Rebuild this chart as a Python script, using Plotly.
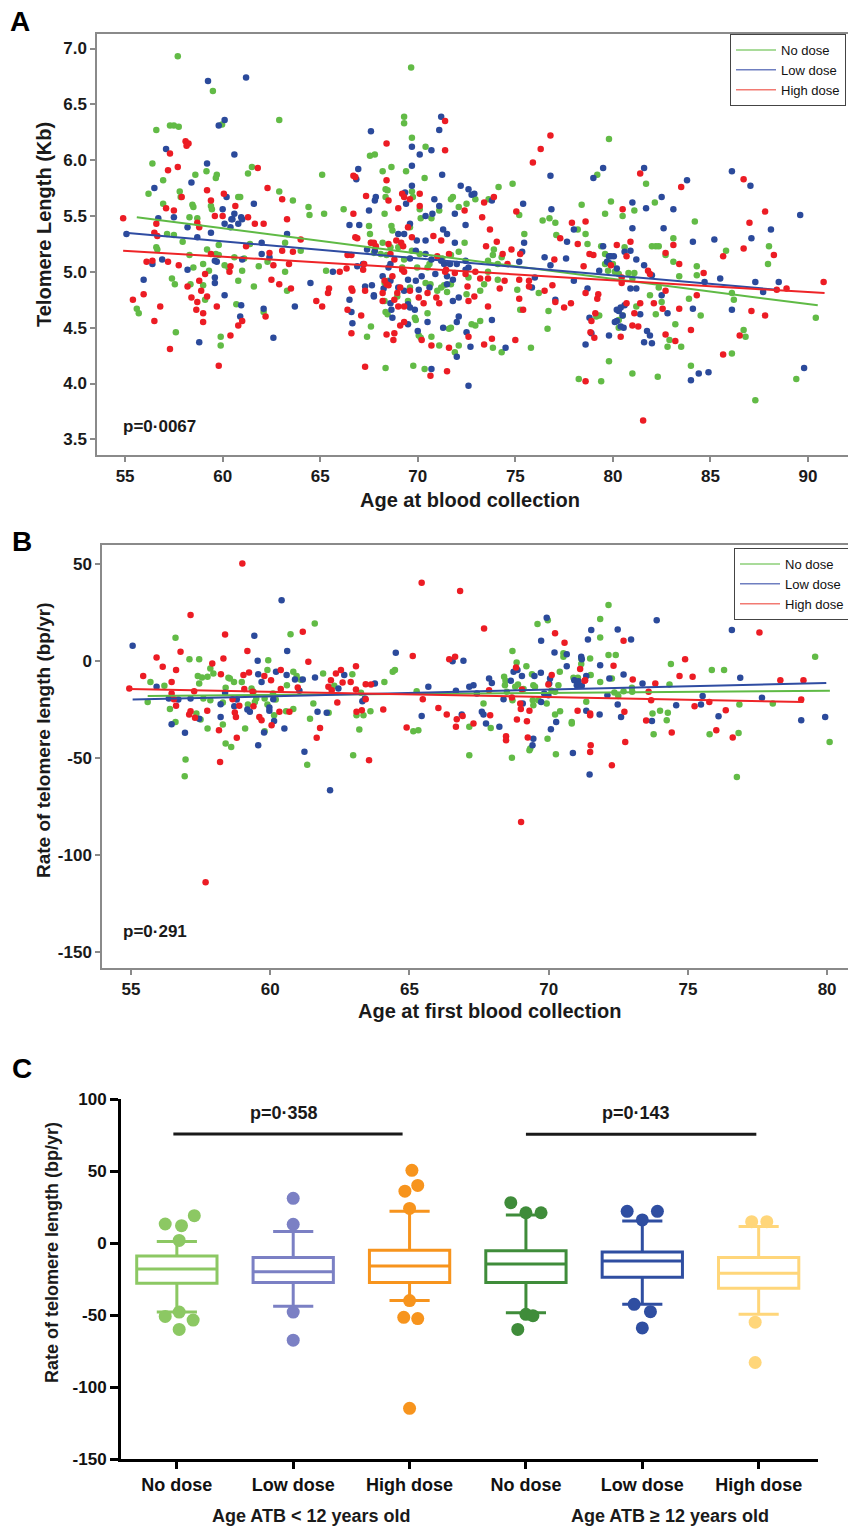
import plotly.graph_objects as go

W, H = 848, 1528
FONT = "Liberation Sans, Arial, sans-serif"

# ---------------- Panel A data (age, telomere length Kb) ----------------
A_NO_DOSE = [(57.7,6.93),(69.66,6.83),(59.5,6.62),(59.97,6.32),(56.6,6.27),(57.3,6.31),(57.5,6.31),(57.75,6.30),(62.9,6.36),(69.3,6.39),(69.3,6.33),(69.7,6.20),(70.4,6.12),(67.55,6.04),(67.8,6.05),(56.4,5.97),(59.17,5.90),(56.95,5.82),(59.7,5.87),(59.65,5.84),(58.6,5.87),(61.5,5.94),(61.3,5.88),(65.1,5.87),(68.2,5.90),(68.65,5.94),(69.4,5.90),(70.35,5.84),(68.35,5.74),(68.45,5.73),(68.35,5.67),(69.7,5.72),(69.75,5.67),(56.2,5.70),(57.8,5.72),(57.85,5.67),(58.45,5.60),(58.5,5.58),(60.8,5.67),(60.9,5.67),(62.9,5.72),(63.6,5.64),(64.4,5.58),(64.45,5.51),(66.2,5.56),(65.2,5.52),(59.4,5.59),(59.45,5.56),(68.3,5.52),(56.95,5.61),(58.3,5.49),(58.7,5.48),(70.1,5.56),(70.15,5.48),(70.7,5.48),(71.1,5.55),(71.8,5.67),(71.7,5.65),(72.1,5.58),(72.5,5.61),(67.5,5.41),(67.55,5.34),(68.65,5.41),(68.7,5.37),(69.6,5.40),(57.15,5.34),(57.5,5.33),(57.95,5.27),(59.8,5.24),(59.2,5.20),(61.4,5.25),(63.2,5.26),(64.0,5.19),(56.6,5.22),(56.65,5.20),(58.3,5.15),(59.8,5.15),(59.65,5.16),(60.6,5.13),(61.1,5.12),(61.85,5.05),(62.3,5.09),(63.2,5.00),(63.3,4.83),(59.3,5.01),(60.1,5.06),(60.3,5.04),(59.0,5.07),(58.5,5.04),(65.3,5.01),(57.55,4.89),(57.4,4.94),(58.35,4.89),(59.0,4.88),(59.1,4.75),(60.7,4.71),(61.6,4.87),(61.0,5.01),(60.8,4.92),(62.1,4.64),(55.6,4.67),(55.7,4.63),(57.6,4.46),(59.9,4.42),(59.9,4.34),(67.6,5.26),(67.75,5.17),(68.2,5.26),(68.1,5.16),(68.4,5.15),(68.6,5.22),(69.0,5.22),(69.3,5.11),(69.2,5.04),(69.7,5.19),(70.1,5.16),(69.97,5.04),(70.5,5.04),(70.6,5.07),(71.25,5.12),(71.7,5.15),(72.1,5.18),(72.4,5.26),(71.2,4.86),(71.35,4.88),(71.0,4.83),(71.5,4.82),(71.7,4.89),(70.4,4.90),(70.65,4.89),(68.3,4.90),(68.5,4.92),(68.3,4.74),(68.35,4.64),(68.45,4.62),(68.95,4.78),(69.6,4.86),(69.5,4.74),(69.9,4.57),(69.85,4.59),(70.5,4.63),(67.6,4.51),(67.4,4.42),(68.35,4.14),(69.77,4.16),(70.35,4.13),(70.05,4.43),(70.15,4.41),(70.7,4.42),(71.1,4.34),(71.7,4.50),(71.6,4.49),(72.1,4.34),(71.9,4.28),(72.5,4.80),(72.6,4.95),(72.76,4.53),
    (79.8,6.19),(74.14,5.76),(74.86,5.79),(72.95,5.65),(73.63,5.65),(75.2,5.51),(75.46,5.34),(76.4,5.46),(76.75,5.48),(77.05,5.44),(77.1,5.33),(78.2,5.38),(78.4,5.60),(78.6,5.34),(78.7,5.25),(79.2,5.87),(79.6,5.52),(79.9,5.63),(80.5,5.50),(81.1,5.55),(81.7,5.79),(82.15,5.62),(79.4,5.23),(79.6,5.16),(79.8,5.14),(79.6,5.07),(79.75,5.01),(80.0,5.07),(80.1,5.00),(80.3,4.98),(80.6,5.22),(80.8,4.99),(81.1,4.99),(81.0,4.94),(82.0,5.23),(82.2,5.23),(82.35,5.23),(83.1,5.30),(83.1,5.09),(82.7,5.15),(82.35,4.86),(81.9,4.79),(81.2,4.69),(82.2,4.62),(82.5,4.73),(80.3,4.57),(80.5,4.61),(80.3,4.50),(79.15,4.60),(79.3,4.61),(79.8,4.20),(81.0,4.09),(82.3,4.06),(79.4,4.02),(78.25,4.04),(76.7,4.65),(76.65,4.49),(75.8,4.32),(74.3,4.28),(73.85,4.32),(73.2,4.56),(72.95,4.52),(73.2,4.83),(73.4,4.89),(73.6,5.00),(73.6,5.10),(74.1,5.07),(74.3,5.13),(73.9,5.20),(73.85,5.15),(74.1,4.93),(75.1,4.84),(76.2,4.81),(75.25,4.66),(82.8,4.33),(82.9,4.39),(83.5,4.33),(83.2,4.53),(83.4,4.96),(83.9,4.76),(84.0,4.16),(84.2,5.45),(84.3,5.05),(84.3,4.97),(84.5,4.61),(85.8,5.19),(86.1,4.81),(86.2,4.75),(86.1,4.27),(86.7,4.48),(86.8,4.42),(87.3,3.85),(87.95,5.07),(88.0,5.23),(89.4,4.04),(90.4,4.59)]

A_LOW_DOSE = [(59.25,6.71),(61.2,6.74),(59.8,6.31),(60.1,6.36),(57.1,6.10),(60.6,6.05),(59.2,5.97),(58.4,5.80),(56.5,5.75),(60.2,5.67),(61.6,5.61),(60.0,5.56),(60.6,5.52),(61.0,5.47),(60.95,5.49),(60.5,5.47),(60.45,5.47),(60.8,5.43),(60.4,5.40),(60.1,5.43),(56.7,5.48),(57.5,5.49),(58.2,5.40),(59.4,5.35),(58.7,5.31),(55.07,5.34),(63.3,5.34),(62.0,5.26),(67.6,6.26),(71.2,6.39),(71.1,6.27),(69.7,6.12),(70.1,6.05),(70.7,6.09),(69.7,5.95),(66.95,5.92),(66.85,5.83),(71.25,5.87),(69.7,5.77),(69.35,5.71),(69.4,5.61),(67.85,5.67),(67.8,5.64),(67.5,5.55),(70.4,5.50),(70.85,5.65),(71.1,5.59),(70.75,5.52),(72.2,5.77),(72.6,5.74),(72.76,5.69),(71.9,5.52),(72.45,5.42),(66.5,5.42),(67.0,5.42),(69.6,5.43),(69.95,5.28),(70.4,5.28),(69.0,5.34),(69.3,5.34),(71.3,5.38),(71.5,5.34),(71.9,5.26),(67.4,5.20),(67.8,5.19),(69.9,5.19),(70.4,5.16),(70.7,5.11),(71.2,5.10),(71.35,5.07),(71.65,5.07),(72.0,5.07),(72.45,5.10),(69.6,5.12),(68.6,5.07),(68.5,5.04),(67.2,5.07),(66.9,5.05),(65.65,5.00),(62.0,5.16),(62.4,5.13),(56.9,5.11),(56.4,5.07),(58.2,5.02),(59.6,5.10),(59.7,5.09),(61.0,5.11),(64.5,4.90),(55.95,4.93),(59.6,4.95),(59.6,4.90),(60.1,4.79),(60.95,4.70),(60.9,4.60),(62.1,4.67),(63.7,4.69),(58.8,4.37),(62.6,4.41),(67.3,4.87),(67.65,4.88),(67.75,4.79),(67.75,4.78),(68.2,4.96),(68.25,4.85),(68.6,4.92),(68.6,4.72),(68.65,4.66),(68.7,4.59),(69.0,4.86),(69.3,4.83),(69.5,4.93),(69.5,4.71),(69.6,4.68),(69.85,4.66),(69.9,4.92),(70.05,4.84),(70.2,4.96),(70.6,4.86),(70.9,4.98),(71.5,4.89),(71.5,4.96),(71.8,4.93),(72.45,5.02),(72.6,5.04),(71.8,4.74),(72.1,4.77),(72.1,4.60),(72.0,4.55),(71.3,4.50),(72.5,4.46),(72.7,4.33),(69.5,4.53),(70.5,4.55),(70.0,4.47),(66.65,4.54),(66.6,4.64),(66.5,4.75),(72.0,4.24),(70.7,4.13),(72.6,3.98),
    (76.8,5.86),(79.0,5.84),(79.5,5.93),(81.6,5.93),(81.0,5.62),(81.7,5.57),(82.5,5.67),(83.1,5.56),(83.8,5.82),(86.1,5.90),(87.05,5.77),(89.6,5.51),(88.1,5.38),(87.1,5.30),(85.2,5.29),(84.1,5.27),(82.6,5.39),(81.0,5.39),(79.5,5.23),(79.9,5.14),(80.05,5.14),(79.8,5.14),(79.7,5.09),(79.8,5.08),(80.2,5.03),(80.6,5.18),(80.9,5.19),(81.2,5.11),(81.6,5.06),(82.0,4.97),(79.3,5.01),(78.0,4.92),(77.65,5.27),(78.0,5.38),(77.6,5.12),(76.85,5.56),(76.5,5.13),(76.8,5.06),(75.4,5.61),(75.45,5.26),(75.35,5.18),(75.2,5.09),(76.0,4.95),(75.85,4.86),(73.8,5.64),(72.9,5.70),(73.8,4.57),(74.5,4.32),(78.7,4.85),(78.8,4.59),(78.9,4.45),(78.6,4.35),(79.8,4.43),(80.2,4.66),(80.3,4.65),(80.4,4.68),(80.6,4.70),(80.5,4.61),(80.2,4.56),(80.1,4.55),(80.4,4.51),(80.55,4.50),(80.9,4.85),(81.2,4.85),(81.4,4.62),(81.75,4.47),(81.9,4.43),(82.0,4.36),(81.6,4.37),(82.5,4.79),(82.8,4.63),(84.1,4.67),(84.7,4.91),(85.5,4.94),(86.1,4.66),(87.3,4.91),(87.7,4.82),(88.5,4.91),(84.0,4.03),(84.4,4.09),(84.9,4.10),(89.8,4.14),(77.05,4.75)]

A_HIGH_DOSE = [(54.9,5.48),(58.1,6.17),(58.15,6.13),(58.25,6.15),(57.3,6.06),(57.7,5.94),(61.8,5.93),(68.4,6.15),(71.4,6.35),(71.4,6.09),(66.7,5.86),(66.8,5.85),(68.4,5.82),(59.2,5.73),(60.06,5.70),(57.9,5.67),(62.3,5.75),(63.05,5.65),(59.4,5.64),(60.65,5.59),(57.1,5.57),(57.5,5.55),(59.6,5.50),(60.0,5.50),(61.3,5.49),(67.35,5.68),(68.5,5.64),(69.2,5.70),(69.3,5.67),(69.6,5.65),(70.1,5.70),(70.1,5.59),(69.0,5.57),(72.4,5.55),(66.7,5.52),(63.3,5.47),(56.6,5.43),(56.65,5.32),(56.5,5.35),(58.7,5.44),(58.8,5.40),(61.65,5.43),(62.1,5.43),(64.0,5.29),(66.8,5.31),(66.9,5.30),(67.6,5.26),(67.75,5.26),(67.85,5.23),(68.5,5.25),(68.9,5.28),(69.15,5.26),(69.25,5.23),(69.5,5.40),(69.7,5.31),(70.8,5.32),(71.2,5.28),(61.2,5.23),(63.05,5.19),(63.6,5.18),(62.4,5.17),(57.2,5.91),(59.4,5.16),(56.1,5.09),(56.4,5.10),(57.2,5.09),(57.75,5.06),(60.4,5.05),(60.35,5.00),(59.1,4.98),(58.8,4.92),(58.2,4.87),(58.9,4.83),(58.7,4.73),(59.2,4.78),(58.4,4.77),(58.65,4.66),(59.0,4.63),(59.0,4.55),(59.7,4.69),(55.4,4.75),(55.95,4.80),(56.8,4.69),(56.5,4.56),(57.3,4.31),(59.8,4.16),(60.4,4.43),(60.8,4.52),(61.0,4.56),(62.2,4.60),(62.5,4.93),(62.9,4.89),(62.6,5.06),(63.4,5.07),(63.5,4.85),(64.8,4.74),(65.1,4.69),(65.4,4.81),(65.45,4.85),(66.0,5.00),(66.35,5.03),(66.4,5.15),(66.6,5.15),(67.2,5.02),(67.25,5.07),(66.4,4.66),(66.6,4.85),(66.65,4.83),(67.1,4.61),(66.6,4.45),(67.3,4.15),(67.3,4.83),(68.2,4.81),(68.2,4.74),(68.4,4.89),(68.3,4.92),(68.7,4.96),(68.5,4.88),(68.8,5.11),(68.6,5.16),(69.2,5.02),(69.3,5.00),(69.1,4.86),(68.95,4.81),(68.8,4.75),(69.3,4.55),(69.1,4.52),(68.4,4.44),(68.8,4.45),(68.75,4.39),(69.0,4.69),(69.3,4.69),(69.6,4.83),(70.05,4.77),(70.3,4.72),(70.5,4.81),(70.95,4.77),(71.1,4.72),(71.6,5.16),(71.4,5.00),(71.45,5.02),(71.0,5.14),(71.9,4.99),(72.45,4.98),(72.55,4.87),(72.6,4.74),(72.6,4.42),(70.7,4.34),(70.2,4.39),(71.6,4.32),(70.65,4.07),(71.5,4.11),
    (76.8,6.22),(76.3,6.10),(75.9,5.98),(73.9,5.67),(73.4,5.62),(75.05,5.54),(73.3,5.49),(73.7,5.38),(73.5,5.23),(74.05,5.27),(74.35,5.16),(74.8,5.20),(75.25,5.16),(77.9,5.44),(78.6,5.45),(77.3,5.30),(78.2,5.25),(77.0,5.11),(78.8,5.16),(79.0,5.15),(78.5,5.05),(74.6,5.07),(72.95,5.00),(73.2,4.94),(73.6,4.94),(74.45,4.92),(74.2,4.85),(75.2,4.93),(75.7,4.92),(75.7,4.87),(76.9,4.88),(76.5,4.83),(75.2,4.76),(72.9,4.78),(73.6,4.69),(75.4,4.66),(77.05,4.73),(77.5,4.68),(77.85,4.72),(78.6,4.81),(79.2,4.76),(79.25,4.80),(79.1,4.63),(78.9,4.56),(78.85,4.46),(79.05,4.41),(78.6,4.02),(75.0,4.39),(73.8,4.40),(73.4,4.35),(80.5,5.56),(80.2,5.24),(79.9,5.06),(80.45,4.95),(80.45,4.90),(80.7,5.14),(80.9,5.27),(81.4,5.88),(80.7,4.72),(80.4,4.42),(81.1,4.63),(81.0,4.52),(81.3,4.51),(81.4,4.72),(82.1,4.72),(82.7,4.83),(82.55,4.67),(82.7,4.44),(83.2,4.38),(81.55,3.67),(81.8,5.01),(81.9,4.98),(82.7,5.17),(83.1,5.24),(83.4,5.07),(83.5,5.76),(83.4,4.67),(84.0,4.48),(84.3,4.79),(84.65,4.99),(85.65,5.14),(85.65,4.26),(86.5,4.43),(86.7,5.83),(86.7,5.21),(87.0,5.44),(87.1,4.65),(87.8,5.54),(87.8,4.61),(88.25,5.15),(88.4,4.84),(88.9,4.85),(90.8,4.91)]

# regression line end points (age, Kb)
A_FIT_NO = [(55.6, 5.49), (90.5, 4.70)]
A_FIT_LOW = [(55.0, 5.35), (88.4, 4.84)]
A_FIT_HIGH = [(54.9, 5.19), (90.85, 4.81)]
A_Y_TICKS = [3.5, 4.0, 4.5, 5.0, 5.5, 6.0, 6.5, 7.0]
A_X_TICKS = [55, 60, 65, 70, 75, 80, 85, 90]

# ---------------- Panel B data (age, bp/yr) ----------------
B_NO_DOSE = [(56.6,12.0),(57.1,1.0),(57.45,1.0),(55.6,-21),(55.7,-10.7),(56.2,-12.7),(56.4,-24.7),(56.6,-31.3),(56.96,-50.7),(56.93,-59.3),(57.45,-11.5),(57.4,-7.6),(57.55,-8.4),(57.35,-27),(57.5,-30),(57.6,-19.2),(57.75,-8),(57.85,-3.8),(57.96,-6.4),(57.85,-20.1),(57.75,-34.7),(58.4,-13.7),(58.5,-8.6),(58.55,-9),(58.7,-10.7),(58.3,-21.3),(58.3,-32.6),(58.4,-42.4),(58.6,-44.2),(58.98,-10.7),(59.33,-14.1),(59.4,-15.8),(59.1,-34.7),(59.2,-22.3),(59.45,-21),(59.5,-19.2),(59.8,-19.2),(59.9,-22.3),(59.93,0.5),(59.9,-4.6),(60.1,-16.7),(60.2,-19.8),(60.14,-27.8),(59.8,-36.1),(60.6,-12.4),(60.57,-25.8),(60.73,13.8),(60.83,-5.5),(60.95,-7.6),(61.1,-9.6),(60.83,-24.7),(61.33,-53.3),(61.43,-29.6),(61.55,-21.8),(61.6,19.4),(61.9,-6.4),(62.1,-26.6),(62.3,-12.7),(62.95,-6.7),(62.98,-48.5),(63.1,-27.8),(63.35,-27.8),(63.2,-35.2),(63.26,-16.3),(63.6,-25.8),(64.1,-10.7),(64.4,-5.5),(64.48,-4.6),(65.14,-36.1),(65.32,-35.6),(65.26,-15.5),(67.15,-48.5),(67.15,-33.8),
    (72.15,28.9),(69.6,19.1),(69.97,21.1),(71.85,21.7),(71.85,12.2),(68.7,5.2),(68.85,-0.7),(69.2,-2.6),(68.4,-8.1),(68.45,-10.1),(68.43,-12.4),(68.5,-15.8),(68.8,-13.2),(68.9,-12),(68.7,-20.1),(69.1,-14.4),(69.4,-6.7),(69.45,-12.4),(69.51,-13.2),(69.43,-20.1),(69.45,-22.7),(69.63,-20.1),(69.93,-21.8),(70.4,-5.5),(70.35,-12.4),(70.53,4),(70.53,2.2),(70.1,-15.3),(70.23,-15.8),(70.41,-25.8),(70.23,-27.5),(70.83,-31.3),(70.83,-32.1),(69.96,-39.9),(70.26,-48),(69.34,-45),(69.31,-45.9),(68.68,-49.7),(67.92,-34.4),(67.66,-21.8),(70.89,-8.6),(71.05,-8.6),(71.17,-1.5),(71.17,1.4),(71.49,1.4),(71.51,-7.2),(71.85,-10.7),(71.35,-20.9),(72.15,3.1),(72.41,3.1),(72.27,-8.9),(72.36,-16.2),(72.5,-17.9),(72.69,-15.5),(72.99,-13.7),(73.0,-15.8),(73.73,-27),(73.77,-37.6),(74.0,-25.6),(74.24,-30.4),(74.28,-26.6),(74.34,-12),(74.39,-1.5),(75.78,-37.6),(75.86,-4.6),(76.3,-4.6),(76.82,-37),(76.85,-22.3),(76.76,-59.6),(78.05,-21.8),(79.57,2.2),(80.09,-41.6)]

B_LOW_DOSE = [(55.06,7.9),(55.92,-13.2),(56.36,-19.2),(56.7,-19.8),(56.46,-32.5),(56.94,-36.9),(57.14,-19.2),(57.45,-29.6),(58.22,-22.2),(58.22,-28.7),(58.38,-16.3),(58.71,-23.2),(58.8,-19.8),(59.18,-24.9),(59.27,-26.1),(59.43,13.05),(59.55,0.2),(59.57,-6.7),(59.69,-10.7),(59.57,-43.3),(59.78,-36.8),(59.97,-23.9),(59.97,-25.6),(60.11,-19.6),(60.14,-30.8),(60.21,-5.5),(60.41,31.4),(60.51,-34.7),(60.59,-7.2),(60.61,5.2),(60.89,-9.5),(61.17,-9.5),(61.05,-15.3),(61.23,-46.7),(61.61,-8.4),(61.7,-26.1),(62.03,-26.6),(62.15,-66.5),(62.45,-14.1),(62.66,-7.2),(63.31,-20.6),(63.4,-19.2),(63.76,-11.5),(64.51,4.3),(65.44,-28.3),(65.68,-13.2),(66.55,0),(66.94,0.2),(66.67,-15.3),(66.88,-27.5),(67.15,-13.2),(67.3,-12.4),
    (69.93,22.3),(69.73,10.5),(70.21,4.5),(70.65,3.6),(71.17,2.2),(71.19,1.0),(71.41,11.2),(71.53,16),(72.48,16.3),(72.96,11.2),(73.88,21.1),(76.58,16),(70.65,-2.6),(71.85,-2.1),(68.74,-5.5),(68.88,-4.6),(68.64,-10.1),(69.04,-7.7),(69.72,-6),(69.49,-7.7),(69.84,-16.7),(69.99,-17.5),(70.02,-11.5),(70.05,-8.9),(70.92,-9.8),(71.01,-12.4),(71.19,-12.7),(71.07,-10.3),(71.35,-7.7),(72.18,-8.9),(72.11,-17.5),(72.69,-6.9),(73.37,-11.5),(67.86,-8.9),(67.96,-11.2),(67.42,-16.7),(68.38,-19.6),(69.07,-21.8),(69.73,-21),(67.6,-26.1),(67.66,-27.5),(67.75,-32.1),(68.23,-33.8),(69.45,-39.9),(69.42,-43.3),(70.08,-35.1),(70.27,-31.3),(71.35,-25.6),(71.83,-27.5),(72.48,-22.3),(72.6,-28.7),(71.47,-58.4),(70.87,-47.3),(73.71,-30.8),(74.58,-22.7),(75.47,-22.3),(75.53,-17.9),(76.1,-28.4),(76.88,-8.6),(77.66,-18.9),(79.07,-30.4),(79.93,-28.7)]

B_HIGH_DOSE = [(59.0,50.3),(57.14,23.7),(58.38,13.7),(58.32,1.4),(59.18,5.2),(55.92,1.9),(55.44,-7.7),(56.14,-2.9),(56.78,4.8),(56.46,-10.7),(56.62,-4.6),(54.94,-14.1),(56.46,-16.7),(56.54,-19.6),(56.62,-23),(57.09,-27.5),(57.14,-25.8),(57.3,-29.2),(57.27,-15.5),(57.74,-25.6),(57.92,-1.2),(58.23,-6.7),(58.16,-35.6),(58.2,-51.9),(58.65,-19.6),(58.73,-26.5),(58.77,-28.7),(58.8,-39.5),(58.89,-23),(59.04,-7.2),(59.24,-5.8),(59.07,-14.4),(59.37,-15.8),(59.4,-23.2),(59.61,-28.7),(59.69,-30.4),(59.79,-7.7),(60.03,-9.8),(60.05,-33),(60.38,-4.6),(60.38,-14.4),(60.33,-26.1),(60.69,-26.1),(60.99,-13.6),(61.17,15.1),(61.37,-0.3),(61.67,-39.5),(61.79,-34.4),(62.09,-13.2),(62.21,-15),(62.18,-9.8),(62.36,-6.4),(62.54,-4.6),(62.41,-21.3),(62.6,-11),(62.89,-10.7),(63.08,-2.6),(63.08,-14.6),(63.1,-26.1),(63.29,-25.3),(63.43,-19.6),(63.43,-11.9),(63.62,-12),(63.55,-51),(64.06,-24.9),(64.9,-34.2),(65.12,2.7),(65.44,40.4),(65.48,-19.6),(66.04,-24.1),(66.34,-27.5),(66.43,1.0),(66.64,2.2),(66.82,36.1),(66.67,-33.8),(66.7,-29.9),(66.91,-28.2),(67.3,-32.1),(57.68,-113.9),
    (67.68,16.8),(68.83,-3.3),(70.11,-7.2),(70.23,14.3),(70.57,9.5),(71.13,-4.1),(71.29,-10.1),(72.33,-2.4),(72.69,10.5),(73.02,-9.5),(73.59,-15.8),(73.83,-11.5),(73.68,-20.1),(73.5,-30.6),(74.42,-36.8),(74.7,-7.6),(74.9,1.0),(75.17,-8.1),(75.24,-23.2),(75.77,-21),(76.02,-35.6),(76.36,-25.3),(76.61,-39.3),(77.57,14.8),(78.32,-9.8),(79.15,-9.8),(79.07,-19.8),(68.47,-38.7),(68.47,-40.7),(68.68,-18.7),(67.86,-15),(67.9,-27.8),(68.86,-30.1),(69.22,-30.9),(68.98,-21.8),(69.0,-24.7),(69.31,-25.6),(69.04,-14.6),(69.25,-39.3),(69.99,-12.0),(71.04,-25.6),(71.31,-9.8),(71.49,-27),(71.49,-27.8),(71.51,-43.3),(71.49,-46.8),(72.27,-53.6),(72.72,-26.1),(72.75,-41.6),(69.01,-82.8)]

B_FIT_NO = [(55.6, -17.9), (80.1, -15.3)]
B_FIT_LOW = [(55.06, -19.8), (79.97, -11.2)]
B_FIT_HIGH = [(54.94, -14.4), (79.15, -21.0)]
B_Y_TICKS = [-150, -100, -50, 0, 50]
B_X_TICKS = [55, 60, 65, 70, 75, 80]

# ---------------- Panel C data (box summary, bp/yr) ----------------
C_LABELS = ["No dose", "Low dose", "High dose", "No dose", "Low dose", "High dose"]
C_Q1 = [-28, -27.5, -27.5, -27.5, -23.8, -31.5]
C_MEDIAN = [-18, -20, -16, -14.6, -12.5, -21]
C_Q3 = [-9, -10, -5, -5.3, -6.3, -10]
C_LOWER = [-48, -44, -40, -48.4, -42.6, -49.5]
C_UPPER = [1, 8, 22, 19.4, 15.3, 11.4]
# outliers: (group index, x offset within group, value)
C_OUTLIERS = [
    (0, -0.10, 13.2), (0, 0.04, 12.0), (0, 0.15, 19.0), (0, 0.02, 1.8),
    (0, -0.10, -51.0), (0, 0.02, -48.0), (0, 0.14, -53.5), (0, 0.02, -60.0),
    (1, 0.0, 31.0), (1, 0.0, 13.0), (1, 0.0, -48.0), (1, 0.0, -67.5),
    (2, 0.02, 50.5), (2, 0.07, 40.0), (2, -0.04, 36.0), (2, 0.0, 24.0),
    (2, 0.0, -40.0), (2, -0.05, -51.6), (2, 0.07, -52.5), (2, 0.0, -114.8),
    (3, -0.13, 28.0), (3, 0.0, 21.0), (3, 0.13, 21.0),
    (3, 0.0, -49.5), (3, 0.06, -50.5), (3, -0.07, -60.0),
    (4, -0.13, 22.0), (4, 0.0, 16.0), (4, 0.13, 22.0),
    (4, -0.07, -42.6), (4, 0.07, -47.7), (4, 0.0, -59.0),
    (5, -0.06, 14.8), (5, 0.07, 14.8), (5, -0.03, -55.0), (5, -0.03, -83.0),
]
C_COLORS = ["#8cc863", "#7b80c4", "#f7941d", "#3f8c3a", "#2f4ea1", "#ffd67a"]
C_GROUPS = ["Age ATB < 12 years old", "Age ATB \u2265 12 years old"]
C_PVALUES = ["p=0\u00b7358", "p=0\u00b7143"]
C_BRACKETS = [(-0.03, 1.94, 75.7), (3.0, 4.98, 75.5)]
C_Y_TICKS = [-150, -100, -50, 0, 50, 100]

GREEN, BLUE, RED = "#62bb46", "#2b4a9b", "#ec1c24"
LGREEN, LBLUE, LRED = "#5fba45", "#2f4ca2", "#ee2427"
PGREEN, PBLUE, PRED = "#8ccf78", "#6f7fc0", "#f27a72"


def px_x(p):
    return p / W


def px_y(p):
    return 1 - p / H


def hy(v, fmt="{:g}"):
    return fmt.format(v).replace("\u2212", "-")


fig = go.Figure()

# Panel A scatter
for pts, col in [(A_NO_DOSE, GREEN), (A_LOW_DOSE, BLUE), (A_HIGH_DOSE, RED)]:
    fig.add_trace(go.Scatter(x=[p[0] for p in pts], y=[p[1] for p in pts], mode="markers",
                             marker=dict(size=6.5, color=col), showlegend=False,
                             xaxis="x", yaxis="y"))
for fit, col in [(A_FIT_NO, LGREEN), (A_FIT_LOW, LBLUE), (A_FIT_HIGH, LRED)]:
    fig.add_trace(go.Scatter(x=[p[0] for p in fit], y=[p[1] for p in fit], mode="lines",
                             line=dict(color=col, width=2), showlegend=False,
                             xaxis="x", yaxis="y"))
for col, name in [(PGREEN, "No dose"), (PBLUE, "Low dose"), (PRED, "High dose")]:
    fig.add_trace(go.Scatter(x=[None], y=[None], mode="lines", line=dict(color=col, width=1.5),
                             name=name, legend="legend", xaxis="x", yaxis="y"))

# Panel B scatter
for pts, col in [(B_NO_DOSE, GREEN), (B_LOW_DOSE, BLUE), (B_HIGH_DOSE, RED)]:
    fig.add_trace(go.Scatter(x=[p[0] for p in pts], y=[p[1] for p in pts], mode="markers",
                             marker=dict(size=6.5, color=col), showlegend=False,
                             xaxis="x2", yaxis="y2"))
for fit, col in [(B_FIT_NO, LGREEN), (B_FIT_LOW, LBLUE), (B_FIT_HIGH, LRED)]:
    fig.add_trace(go.Scatter(x=[p[0] for p in fit], y=[p[1] for p in fit], mode="lines",
                             line=dict(color=col, width=2), showlegend=False,
                             xaxis="x2", yaxis="y2"))
for col, name in [(PGREEN, "No dose"), (PBLUE, "Low dose"), (PRED, "High dose")]:
    fig.add_trace(go.Scatter(x=[None], y=[None], mode="lines", line=dict(color=col, width=1.5),
                             name=name, legend="legend2", xaxis="x2", yaxis="y2"))

# Panel C boxes
for i in range(6):
    fig.add_trace(go.Box(x=[i], q1=[C_Q1[i]], median=[C_MEDIAN[i]], q3=[C_Q3[i]],
                         lowerfence=[C_LOWER[i]], upperfence=[C_UPPER[i]],
                         width=0.69, whiskerwidth=0.5, fillcolor="white",
                         line=dict(color=C_COLORS[i], width=3), boxpoints=False,
                         showlegend=False, xaxis="x3", yaxis="y3"))
    pts = [o for o in C_OUTLIERS if o[0] == i]
    fig.add_trace(go.Scatter(x=[o[0] + o[1] for o in pts], y=[o[2] for o in pts], mode="markers",
                             marker=dict(size=13, color=C_COLORS[i]), showlegend=False,
                             xaxis="x3", yaxis="y3"))

for (x0, x1, yv) in C_BRACKETS:
    fig.add_trace(go.Scatter(x=[x0, x1], y=[yv, yv], mode="lines",
                             line=dict(color="#1a1a1a", width=3), showlegend=False,
                             xaxis="x3", yaxis="y3"))

tick_font = dict(family=FONT, size=17, color="#1a1a1a", weight="bold")
gray_axis = dict(showline=True, linecolor="#8a8a8a", linewidth=1.5, ticks="outside",
                 ticklen=5, tickcolor="#8a8a8a", tickwidth=1.5, showgrid=False,
                 zeroline=False, tickfont=tick_font)
legend_common = dict(xanchor="left", yanchor="top", bgcolor="white", bordercolor="#444",
                     borderwidth=1, font=dict(family=FONT, size=13, color="#111"),
                     tracegroupgap=0, itemwidth=40)

fig.update_layout(
    width=W, height=H, margin=dict(l=0, r=0, t=0, b=0, autoexpand=False),
    paper_bgcolor="white", plot_bgcolor="white", showlegend=True,
    xaxis=dict(domain=[px_x(97), 1.0], range=[53.56, 92.05], tickvals=A_X_TICKS,
               mirror=True, anchor="y", **gray_axis),
    yaxis=dict(domain=[px_y(455), px_y(34)], range=[3.36, 7.13], tickvals=A_Y_TICKS,
               ticktext=[hy(v, "{:.1f}") for v in A_Y_TICKS], anchor="x", **gray_axis),
    xaxis2=dict(domain=[px_x(102), 1.0], range=[53.96, 80.75], tickvals=B_X_TICKS,
                mirror=True, anchor="y2", **gray_axis),
    yaxis2=dict(domain=[px_y(968), px_y(545)], range=[-158, 59.8], tickvals=B_Y_TICKS,
                ticktext=[hy(v) for v in B_Y_TICKS], anchor="x2", **gray_axis),
    xaxis3=dict(domain=[px_x(121), px_x(818)], range=[-0.48, 5.51], tickvals=list(range(6)),
                ticktext=C_LABELS, showline=True, linecolor="black", linewidth=3, ticks="outside",
                ticklen=7, tickwidth=3, tickcolor="black", showgrid=False, zeroline=False,
                tickfont=dict(family=FONT, size=18, color="#111", weight="bold"), anchor="y3"),
    yaxis3=dict(domain=[px_y(1459), px_y(1099)], range=[-150, 100], tickvals=C_Y_TICKS,
                ticktext=[hy(v) for v in C_Y_TICKS], showline=True, linecolor="black", linewidth=3,
                ticks="outside", ticklen=8, tickwidth=3, tickcolor="black", showgrid=False,
                zeroline=False, tickfont=dict(family=FONT, size=17, color="#111", weight="bold"),
                anchor="x3"),
    legend=dict(x=px_x(730), y=px_y(34), **legend_common),
    legend2=dict(x=px_x(734), y=px_y(548), **legend_common),
)

ann = []


def add_text(text, x, y, size, angle=0, xanchor="center", weight="bold", color="#1a1a1a"):
    ann.append(dict(text=text, x=px_x(x), y=px_y(y), xref="paper", yref="paper",
                    showarrow=False, xanchor=xanchor, yanchor="middle", textangle=angle,
                    font=dict(family=FONT, size=size, color=color, weight=weight)))


add_text("A", 20, 21, 28, color="black")
add_text("B", 22, 541, 28, color="black")
add_text("C", 22, 1068, 28, color="black")
add_text("Telomere Length (Kb)", 44, 225, 20, angle=-90)
add_text("Age at blood collection", 470, 500, 20)
add_text("p=0\u00b70067", 121, 427, 17, xanchor="left")
add_text("Rate of telomere length (bp/yr)", 44, 740, 19, angle=-90)
add_text("Age at first blood collection", 489, 1011, 20)
add_text("p=0\u00b7291", 121, 932, 17, xanchor="left")
add_text("Rate of telomere length (bp/yr)", 52, 1253, 18, angle=-90)
add_text(C_GROUPS[0], 311, 1516, 18)
add_text(C_GROUPS[1], 670, 1516, 18)
add_text(C_PVALUES[0], 284, 1113, 18)
add_text(C_PVALUES[1], 636, 1113, 18)
fig.update_layout(annotations=ann)

fig.write_html("out.html", config={"displayModeBar": False},
               post_script="document.body.style.margin='0px';document.body.style.overflow='hidden';")
